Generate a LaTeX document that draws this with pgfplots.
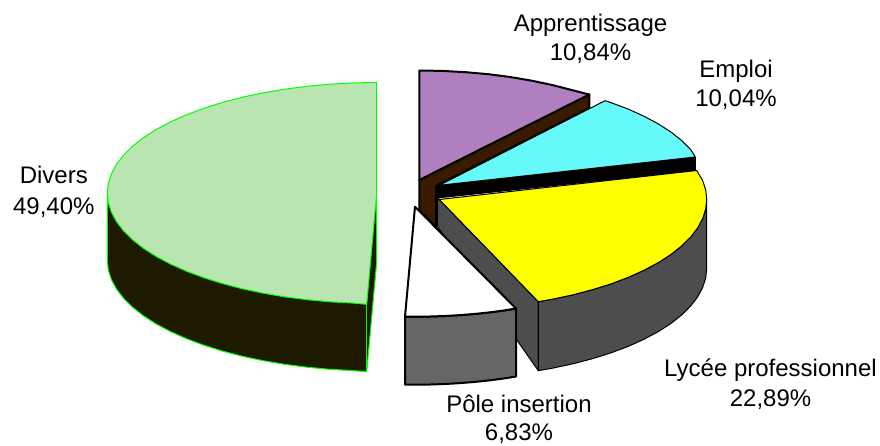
\documentclass[border=0pt]{standalone}
\usepackage{pgfplots}
\pgfplotsset{compat=1.18}
\usepackage{fontspec}
\setmainfont{Liberation Sans}
\definecolor{gtop}{HTML}{B8E5B0}
\definecolor{gside}{HTML}{1D1A00}
\definecolor{gline}{HTML}{00FF00}
\definecolor{ptop}{HTML}{B07FBF}
\definecolor{pside}{HTML}{3A1A00}
\definecolor{ctop}{HTML}{66F9F9}
\definecolor{ytop}{HTML}{FFFF00}
\definecolor{yside}{HTML}{4D4D4D}
\definecolor{wside}{HTML}{666666}
\begin{document}
\begin{tikzpicture}
\useasboundingbox (0,0) rectangle (880pt,445pt);
\begin{axis}[
  at={(0,0)}, anchor=south west,
  scale only axis, width=880pt, height=445pt,
  xmin=0, xmax=880, ymin=0, ymax=445, y dir=reverse,
  hide axis, clip=false, line join=round,
  every axis plot/.append style={mark=none}
]
% green side
\addplot[draw=gline, line width=1pt, fill=gside] coordinates {
(107.3,193)(107.3,260.5)(108.3,270.1)(111.4,279.7)(116.5,289.1)(123.5,298.3)(132.5,307.2)(143.4,315.8)(156,323.9)(170.3,331.5)(186.2,338.6)(203.5,345.1)(222.2,351)(242,356.2)(262.8,360.6)(284.6,364.3)(307,367.2)(329.9,369.3)(353.2,370.6)(366.7,371.7)
(376.7,262)(376.7,193)} -- cycle;
% green top
\addplot[draw=gline, line width=1pt, fill=gtop] coordinates {
(376.7,193)(376.7,82.5)(353.2,82.9)(329.9,84.2)(307,86.3)(284.6,89.2)(262.8,92.9)(242,97.3)(222.2,102.5)(203.5,108.4)(186.2,114.9)(170.3,122)(156,129.6)(143.4,137.7)(132.5,146.3)(123.5,155.2)(116.5,164.4)(111.4,173.8)(108.3,183.4)(107.3,193)
(108.3,202.6)(111.4,212.2)(116.5,221.6)(123.5,230.8)(132.5,239.7)(143.4,248.3)(156,256.4)(170.3,264)(186.2,271.1)(203.5,277.6)(222.2,283.5)(242,288.7)(262.8,293.1)(284.6,296.8)(307,299.7)(329.9,301.8)(353.2,303.1)(366.7,304.3)} -- cycle;
\addplot[draw=gline, line width=1pt] coordinates {(366.7,304.3)(366.7,371.7)};
% purple side
\addplot[draw=black, line width=2pt, fill=pside] coordinates {
(419.3,180)(589.3,94.5)(589.3,108)(436,186)(436,226.7)(419.3,210)} -- cycle;
% purple top
\addplot[draw=black, line width=2pt, fill=ptop] coordinates {
(419.3,180)(419.3,70.5)(442.6,70.9)(465.7,72.2)(488.5,74.2)(510.8,77.1)(532.3,80.8)(553,85.2)(572.7,90.3)(589.3,94.5)} -- cycle;
% cyan side
\addplot[draw=black, line width=1pt, fill=black] coordinates {
(437,186)(695.3,157)(695.3,170.5)(437,198)} -- cycle;
% cyan top
\addplot[draw=black, line width=1pt, fill=ctop] coordinates {
(439.3,185.3)(605,100.7)(611.2,102.7)(628.4,109.2)(644.1,116.3)(658.3,123.9)(670.9,132)(681.6,140.5)(690.6,149.4)(695.3,157)} -- cycle;
% yellow sides
\addplot[draw=black, line width=1pt, fill=yside] coordinates {
(437.7,198)(437.7,226.7)(538.3,370.7)(538.3,301.7)} -- cycle;
\addplot[draw=black, line width=1pt, fill=yside] coordinates {
(538.3,301.7)(538.3,370.7)(552.3,368.2)(573,363.8)(592.7,358.6)(611.2,352.8)(628.4,346.3)(644.1,339.2)(658.3,331.6)(670.9,323.5)(681.6,315)(690.6,306.1)(697.6,297)(702.6,287.6)(705.7,278.1)(706.7,268.5)(706.7,199.5)
(705.7,209.1)(702.6,218.6)(697.6,228)(690.6,237.1)(681.6,246)(670.9,254.5)(658.3,262.6)(644.1,270.2)(628.4,277.3)(611.2,283.8)(592.7,289.6)(573,294.8)(552.3,299.2)} -- cycle;
% yellow top
\addplot[draw=black, line width=1pt, fill=ytop] coordinates {
(439.3,199.5)(696.7,170.5)(702.6,180.4)(705.7,189.9)(706.7,199.5)(705.7,209.1)(702.6,218.6)(697.6,228)(690.6,237.1)(681.6,246)(670.9,254.5)(658.3,262.6)(644.1,270.2)(628.4,277.3)(611.2,283.8)(592.7,289.6)(573,294.8)(552.3,299.2)(538.3,301.7)} -- cycle;
% white side
\addplot[draw=black, line width=2pt, fill=wside] coordinates {
(405,316.7)(415,316.7)(430,316.5)(445,316)(460,315.1)(475,313.9)(490,312.3)(505,310.3)(516,308.5)
(516,376.5)(505,378.3)(490,380.3)(475,381.9)(460,383.1)(445,384)(430,384.5)(415,384.7)(405,384.7)} -- cycle;
% white top
\addplot[draw=black, line width=2pt, fill=white] coordinates {
(415,206.7)(405,316.7)(415,316.7)(430,316.5)(445,316)(460,315.1)(475,313.9)(490,312.3)(505,310.3)(516,308.5)} -- cycle;
% labels
\tikzset{lab/.style={font=\fontsize{24}{28}\selectfont, inner sep=0pt, anchor=base}}
\node[lab] at (axis cs:590.5,31.7) {Apprentissage};
\node[lab] at (axis cs:590.5,60) {10,84\%};
\node[lab] at (axis cs:736,77.3) {Emploi};
\node[lab] at (axis cs:736,106) {10,04\%};
\node[lab] at (axis cs:770.5,376.7) {Lycée professionnel};
\node[lab] at (axis cs:770.5,406) {22,89\%};
\node[lab] at (axis cs:519,412.5) {Pôle insertion};
\node[lab] at (axis cs:519,440.5) {6,83\%};
\node[lab] at (axis cs:53.8,183.3) {Divers};
\node[lab] at (axis cs:53.8,214) {49,40\%};
\end{axis}
\end{tikzpicture}
\end{document}
